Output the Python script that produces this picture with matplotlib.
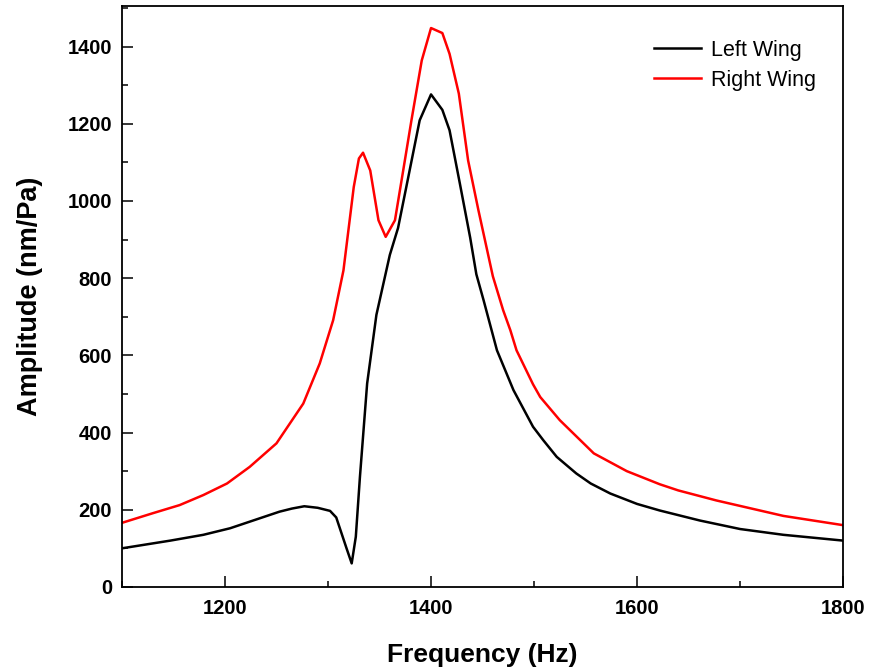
import numpy as np
import matplotlib
matplotlib.use('Agg')
import matplotlib.pyplot as plt
from matplotlib.ticker import MultipleLocator

plt.rcParams['font.family'] = ['Liberation Sans', 'DejaVu Sans']

# Left wing response
left_freq = [1100, 1147, 1179, 1205, 1234, 1253, 1265, 1277, 1290, 1302, 1308, 1312,
             1318, 1323, 1327, 1331, 1338, 1347, 1360, 1368, 1376, 1389, 1400, 1411,
             1418, 1428, 1438, 1444, 1451, 1464, 1480, 1499, 1509, 1522, 1541, 1555,
             1574, 1600, 1622, 1661, 1700, 1742, 1800]
left_amp = [100, 120, 135, 152, 178, 195, 203, 209, 205, 197, 180, 148,
            100, 61, 130, 285, 527, 705, 860, 930, 1036, 1209, 1276, 1236,
            1183, 1045, 905, 810, 743, 613, 510, 415, 380, 337, 294, 268,
            242, 215, 198, 172, 150, 135, 120]

# Right wing response
right_freq = [1100, 1130, 1156, 1179, 1202, 1224, 1250, 1276, 1292, 1305, 1315, 1325,
              1330, 1334, 1341, 1349, 1356, 1365, 1373, 1381, 1391, 1400, 1411, 1418,
              1427, 1436, 1446, 1460, 1470, 1477, 1483, 1499, 1506, 1525, 1558, 1590,
              1622, 1640, 1677, 1742, 1800]
right_amp = [166, 191, 212, 238, 268, 311, 372, 475, 579, 691, 820, 1036,
             1110, 1125, 1079, 950, 907, 950, 1079, 1209, 1364, 1448, 1435, 1381,
             1278, 1105, 976, 805, 717, 665, 613, 525, 492, 432, 346, 300,
             266, 250, 224, 184, 160]

fig = plt.figure(figsize=(8.71, 6.70), dpi=100)
ax = fig.add_axes([0.140, 0.124, 0.828, 0.867])

ax.plot(left_freq, left_amp, color='black', lw=1.8, label='Left Wing')
ax.plot(right_freq, right_amp, color='#ff0000', lw=1.8, label='Right Wing')

ax.set_xlim(1100, 1800)
ax.set_ylim(0, 1505)
ax.xaxis.set_major_locator(MultipleLocator(200))
ax.xaxis.set_minor_locator(MultipleLocator(100))
ax.yaxis.set_major_locator(MultipleLocator(200))
ax.yaxis.set_minor_locator(MultipleLocator(100))

ax.tick_params(which='both', direction='in', top=False, right=False, width=1.1)
ax.tick_params(which='major', length=8)
ax.tick_params(which='minor', length=4.5)
ax.tick_params(axis='x', pad=9)
ax.tick_params(axis='y', pad=7)
for lab in ax.get_xticklabels() + ax.get_yticklabels():
    lab.set_fontsize(14.5)
    lab.set_fontweight('bold')
for sp in ax.spines.values():
    sp.set_linewidth(1.3)

ax.set_xlabel('Frequency (Hz)', fontsize=19, fontweight='bold', labelpad=18)
ax.set_ylabel('Amplitude (nm/Pa)', fontsize=19.5, fontweight='bold', labelpad=18)

leg = ax.legend(loc='upper right', bbox_to_anchor=(0.989, 0.975), frameon=False,
                fontsize=15.5, handlelength=2.2, handletextpad=0.45, labelspacing=0.4)

fig.savefig('out.png', dpi=100)
